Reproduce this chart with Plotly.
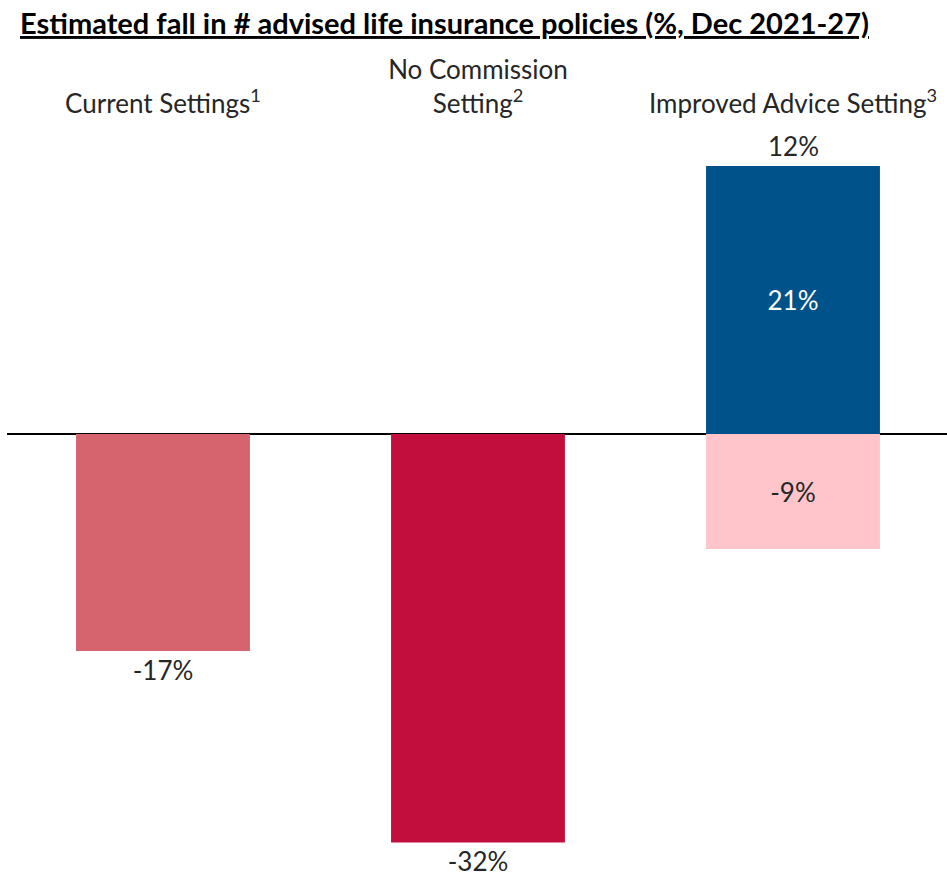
import plotly.graph_objects as go

# Scenario data (% change in advised life insurance policies, Dec 2021-27)
categories = ["Current Settings<sup>1</sup>",
              "No Commission<br>Setting<sup>2</sup>",
              "Improved Advice Setting<sup>3</sup>"]
falls = [-17, -32, -9]          # negative component per scenario
gains = [None, None, 21]        # positive component (Improved Advice only)
net_improved = 12               # net change for Improved Advice

fall_colors = ["#D6646F", "#C20E3C", "#FFC5CA"]
gain_color = "#00538A"
text_dark = "#262626"
FONT = "Lato"

x_idx = list(range(len(categories)))
gain_x = [i for i, g in zip(x_idx, gains) if g is not None]
gain_y = [g for g in gains if g is not None]

fig = go.Figure()

# Negative bars for all three scenarios
fig.add_trace(go.Bar(
    x=x_idx, y=falls, width=0.552,
    marker=dict(color=fall_colors, line=dict(width=0)),
    text=[f"{v}%" for v in falls],
    textposition=["outside", "outside", "inside"],
    insidetextanchor="middle",
    textfont=dict(family=FONT, size=26, color=text_dark),
    outsidetextfont=dict(family=FONT, size=26, color=text_dark),
    cliponaxis=False,
    hoverinfo="skip",
))

# Positive bar for Improved Advice
fig.add_trace(go.Bar(
    x=gain_x, y=gain_y, width=0.552,
    marker=dict(color=gain_color, line=dict(width=0)),
    text=[f"{g}%" for g in gain_y],
    textposition="inside",
    insidetextanchor="middle",
    textfont=dict(family=FONT, size=26, color="white"),
    hoverinfo="skip",
))

# Net label above the Improved Advice stack
fig.add_annotation(
    x=gain_x[0], y=gain_y[0], yref="y", xref="x",
    text=f"{net_improved}%", showarrow=False,
    yanchor="bottom", yshift=2,
    font=dict(family=FONT, size=26, color=text_dark),
)

# Title
fig.add_annotation(
    xref="paper", x=(18 - 7) / 940, yref="paper", y=1 + 112 / 753,
    text="<b><u>Estimated fall in # advised life insurance policies (%, Dec 2021-27)</u></b>",
    showarrow=False, xanchor="left", yanchor="top",
    font=dict(family=FONT, size=29, color="black"),
)

fig.update_layout(
    width=947, height=877,
    barmode="relative",
    showlegend=False,
    plot_bgcolor="white", paper_bgcolor="white",
    margin=dict(l=7, r=0, t=115, b=9),
)

fig.update_xaxes(
    type="linear",
    tickmode="array", tickvals=x_idx, ticktext=categories,
    side="top", range=[-0.4952, 2.4889],
    showgrid=False, zeroline=False, showline=False, ticks="",
    ticklabelstandoff=-4,
    tickfont=dict(family=FONT, size=26, color=text_dark),
)
fig.update_yaxes(
    range=[-34, 25], showgrid=False, showticklabels=False,
    zeroline=True, zerolinecolor="black", zerolinewidth=2,
    showline=False, ticks="",
)

fig.write_html("out.html")
